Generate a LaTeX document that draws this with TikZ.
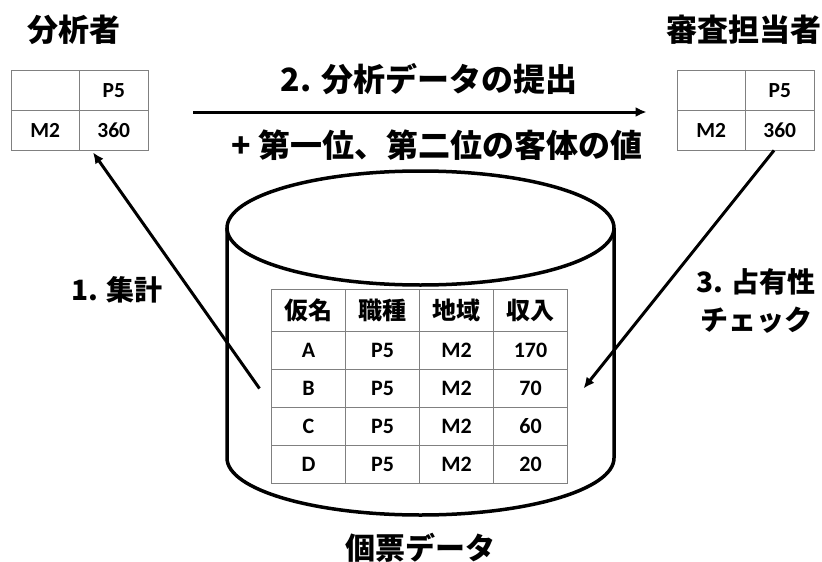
\documentclass[tikz,border=0pt]{standalone}
\usepackage{fontspec}
\setmainfont{Carlito}
\newfontfamily\jp{Noto Sans CJK JP}
\usetikzlibrary{matrix, arrows.meta}
\tikzstyle{flow} = [line width=3pt, -{Latex[length=11pt,width=10pt]}]
\tikzstyle{cell} = [draw=gray, line width=0.8pt, inner sep=0pt, outer sep=0pt, anchor=center,
  text height=14pt, text depth=0pt]
\tikzstyle{jptext} = [font=\jp\bfseries\fontsize{31}{36}\selectfont, align=center]
\tikzstyle{cyl} = [line width=3.5pt]

\begin{document}
\begin{tikzpicture}[x=1pt, y=-1pt]
\useasboundingbox (0,0) rectangle (822,562);

% the two small tables
\matrix (ana) at (79.5,110) [matrix of nodes, nodes in empty cells, inner sep=0pt, outer sep=0pt,
  column sep=-0.8pt, row sep=-0.8pt,
  nodes={cell, minimum width=68.5pt, minimum height=40pt, font=\bfseries\fontsize{21.5}{21.5}\selectfont}]
{ & P5 \\ M2 & 360 \\};
\matrix (exa) at (745.5,110) [matrix of nodes, nodes in empty cells, inner sep=0pt, outer sep=0pt,
  column sep=-0.8pt, row sep=-0.8pt,
  nodes={cell, minimum width=68.5pt, minimum height=40pt, font=\bfseries\fontsize{21.5}{21.5}\selectfont}]
{ & P5 \\ M2 & 360 \\};

\node (anatitle) [jptext] at (74,30) {分析者};
\node (exatitle) [jptext] at (744,30) {審査担当者};

% database cylinder
\draw [cyl] (227,228) -- (227,458) arc[start angle=180, end angle=360, x radius=193.5pt, y radius=57pt] -- (614,228);
\draw [cyl] (420.5,228) ellipse [x radius=193.5pt, y radius=57pt];

\matrix (micro) at (419.5,386.5) [matrix of nodes, inner sep=0pt, outer sep=0pt,
  column sep=-0.8pt, row sep=-0.8pt,
  nodes={cell, minimum width=74pt, minimum height=38pt, font=\bfseries\fontsize{22}{22}\selectfont},
  row 1/.style={nodes={minimum height=42pt, text height=20pt, text depth=2pt,
    font=\jp\bfseries\fontsize{24}{24}\selectfont}}]
{ 仮名 & 職種 & 地域 & 収入 \\
  A & P5 & M2 & 170 \\
  B & P5 & M2 & 70 \\
  C & P5 & M2 & 60 \\
  D & P5 & M2 & 20 \\};

\node (dbname) [jptext, font=\jp\bfseries\fontsize{30}{36}\selectfont] at (420,548) {個票データ};

% steps
\coordinate (collect) at ([xshift=-12pt]micro-3-1.west);
\coordinate (check) at ([xshift=16pt]micro-3-4.east);
\coordinate (send) at ([xshift=45pt,yshift=-2pt]ana.east);
\coordinate (recv) at ([xshift=-30pt,yshift=-2pt]exa.west);

\draw [flow] (collect) -- ([xshift=13.5pt,yshift=-2pt]ana.south);
\draw [flow] (send) -- (recv);
\draw [flow] ([xshift=28.5pt]exa.south) -- (check);

\node (step1) [jptext, font=\jp\bfseries\fontsize{28}{36}\selectfont] at (117,290) {1. 集計};
\node (step2) [jptext, font=\jp\bfseries\fontsize{32}{36}\selectfont] at (429,79) {2. 分析データの提出};
\node (extra) [jptext, font=\jp\bfseries\fontsize{32}{36}\selectfont] at (437,145) {+ 第一位、第二位の客体の値};
\node (step3) [jptext, font=\jp\bfseries\fontsize{28}{38}\selectfont] at (756,301) {3. 占有性\\チェック};

\end{tikzpicture}
\end{document}
